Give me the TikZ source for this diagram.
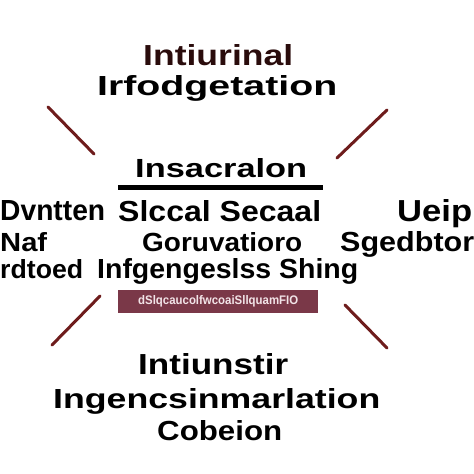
\documentclass[tikz,border=0pt]{standalone}
\usepackage{fontspec}
\setmainfont{Liberation Sans}
\usepackage{graphicx}
\definecolor{raycol}{HTML}{6E1C1C}
\definecolor{topcol}{HTML}{2A0C0C}
\definecolor{boxcol}{HTML}{7A3848}
\definecolor{boxtext}{HTML}{F2E4E8}
\newcommand\fitword[3]{\resizebox{#1pt}{#2pt}{#3}}
\begin{document}
\begin{tikzpicture}[x=1pt,y=-1pt,
  word/.style={anchor=base west, inner sep=0pt, font=\bfseries, text=black},
  ray/.style={line width=3pt, draw=raycol, line cap=round},
  rule/.style={line width=4.5pt, draw=black}]
\useasboundingbox (0,0) rectangle (474,474);
\fill[white] (0,0) rectangle (474,474);

% title
\node[word, text=topcol] (t1) at (143,65) {\fitword{150}{21}{Intiurinal}};
\node[word] (t2) at (97,95) {\fitword{240}{20}{Irfodgetation}};

% rays
\coordinate (r1a) at (48,107);  \coordinate (r1b) at (94,154);
\coordinate (r2a) at (387,110); \coordinate (r2b) at (337,158);
\coordinate (r3a) at (100,296); \coordinate (r3b) at (52,345);
\coordinate (r4a) at (345,305); \coordinate (r4b) at (387,348);
\draw[ray] (r1a) -- (r1b);
\draw[ray] (r2a) -- (r2b);
\draw[ray] (r3a) -- (r3b);
\draw[ray] (r4a) -- (r4b);

% centre heading
\node[word] (h) at (135,177) {\fitword{172}{19}{Insacralon}};
\coordinate (u1) at (118,187.5); \coordinate (u2) at (323,187.5);
\draw[rule] (u1) -- (u2);

% row 1
\node[word] (a1) at (0,220) {\fitword{105}{20}{Dvntten}};
\node[word] (a2) at (118,221) {\fitword{203}{21}{Slccal Secaal}};
\node[word] (a3) at (397,221) {\fitword{75}{22}{Ueip}};
% row 2
\node[word] (b1) at (0,251) {\fitword{47}{19}{Naf}};
\node[word] (b2) at (142,251) {\fitword{160}{19}{Goruvatioro}};
\node[word] (b3) at (340,251) {\fitword{134}{20}{Sgedbtor}};
% row 3
\node[word] (c1) at (0,278) {\fitword{83}{19}{rdtoed}};
\node[word] (c2) at (97,278) {\fitword{261}{20}{Infgengeslss Shing}};

% box
\node[fill=boxcol, minimum width=200pt, minimum height=23pt, anchor=north west, inner sep=0pt] (bx) at (118,290) {};
\node[inner sep=0pt, text=boxtext, font=\bfseries] (bxt) at (bx.center) {\resizebox{160pt}{9pt}{dSlqcaucolfwcoaiSllquamFIO}};

% bottom
\node[word] (d1) at (138,374) {\fitword{150}{21}{Intiunstir}};
\node[word] (d2) at (53,408) {\fitword{327}{20}{Ingencsinmarlation}};
\node[word] (d3) at (157,440) {\fitword{125}{20}{Cobeion}};
\end{tikzpicture}
\end{document}
